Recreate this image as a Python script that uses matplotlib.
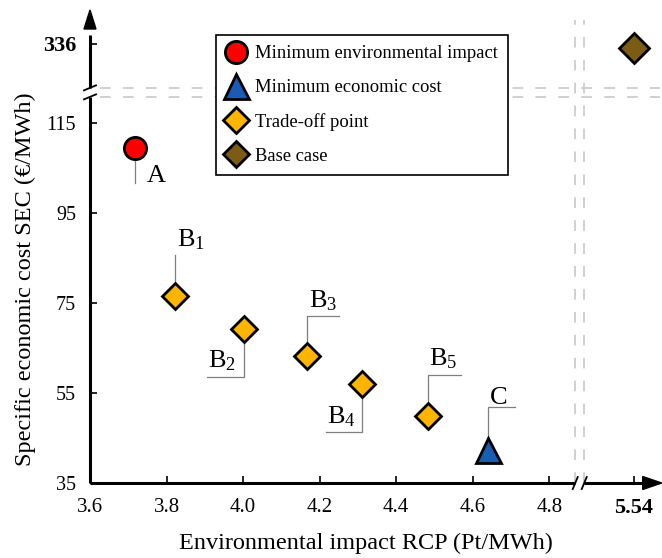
import numpy as np
import matplotlib
matplotlib.use("Agg")
import matplotlib.pyplot as plt
import matplotlib.transforms as mtransforms
from matplotlib.lines import Line2D

plt.rcParams['font.family'] = ['Liberation Serif', 'DejaVu Serif']
plt.rcParams['mathtext.fontset'] = 'custom'
plt.rcParams['mathtext.rm'] = 'Liberation Serif'
plt.rcParams['mathtext.it'] = 'Liberation Serif:italic'

# Pareto points (RCP in Pt/MWh, SEC in EUR/MWh)
point_labels = ['A', r'$\mathrm{B}_\mathrm{1}$', r'$\mathrm{B}_\mathrm{2}$', r'$\mathrm{B}_\mathrm{3}$',
                r'$\mathrm{B}_\mathrm{4}$', r'$\mathrm{B}_\mathrm{5}$', 'C']
rcp = [3.718, 3.822, 4.003, 4.166, 4.312, 4.483, 4.641]
sec = [109.4, 76.6, 69.2, 63.2, 57.0, 49.9, 42.4]
base_rcp = [5.54]
base_sec = [335]

x_ticks = [3.6, 3.8, 4.0, 4.2, 4.4, 4.6, 4.8, 5.54]
x_tick_labels = ['3.6', '3.8', '4.0', '4.2', '4.4', '4.6', '4.8', '5.54']
y_ticks = [35, 55, 75, 95, 115, 336]
y_tick_labels = ['35', '55', '75', '95', '115', '336']
legend_labels = ['Minimum environmental impact', 'Minimum economic cost',
                 'Trade-off point', 'Base case']

# leader lines (pixels from the point): vertical run, horizontal run, label offset
leader_dy = [-35, 41, -48, 40, -48, 41, 43]
leader_dx = [0, 0, -37, 32, -36, 33, 27]
label_off = [(12, -34), (2, 49), (-36, -38), (2, 49), (-35, -39), (1, 51), (2, 46)]

RED = '#ff0000'
BLUE = '#1a5bb5'
ORANGE = '#ffb400'
BROWN = '#7a5c15'
GRAY = '#c4c4c4'


def make_break(lo, hi, gap):
    """Piecewise scale: cut out (lo, hi) and leave a small gap instead."""
    def fwd(v):
        v = np.asarray(v, dtype=float)
        mid = lo + (v - lo) * gap / (hi - lo)
        return np.where(v <= lo, v, np.where(v >= hi, v - (hi - lo) + gap, mid))

    def inv(t):
        t = np.asarray(t, dtype=float)
        mid = lo + (t - lo) * (hi - lo) / gap
        return np.where(t <= lo, t, np.where(t >= lo + gap, t + (hi - lo) - gap, mid))
    return fwd, inv


X_LO, X_HI = 4.868, 5.41
Y_LO, Y_HI = 120.8, 326.2

fig = plt.figure(figsize=(6.62, 5.58), dpi=100)
ax = fig.add_axes([90 / 662, 75 / 558, 570 / 662, 473 / 558])
ax.set_xscale('function', functions=make_break(X_LO, X_HI, 0.0235))
ax.set_yscale('function', functions=make_break(Y_LO, Y_HI, 2.0))
ax.set_xlim(3.6, 5.608)
ax.set_ylim(35, 343.5)
ax.autoscale(False)

for s in ax.spines.values():
    s.set_visible(False)

# axis lines with breaks
xt = ax.get_xaxis_transform()
yt = ax.get_yaxis_transform()
ax.plot([3.6, X_LO], [0, 0], color='k', lw=2.2, transform=xt, clip_on=False, solid_capstyle='butt')
ax.plot([X_HI, 5.58], [0, 0], color='k', lw=2.2, transform=xt, clip_on=False, solid_capstyle='butt')
ax.plot([0, 0], [35, Y_LO], color='k', lw=2.2, transform=yt, clip_on=False, solid_capstyle='butt')
ax.plot([0, 0], [Y_HI, 338], color='k', lw=2.2, transform=yt, clip_on=False, solid_capstyle='butt')

# arrow heads (in inches, tip at the axes corner)
tip_x = fig.dpi_scale_trans + mtransforms.ScaledTranslation(1.003, 0, ax.transAxes)
ax.fill([0, -0.19, -0.19], [0, 0.065, -0.065], color='k', transform=tip_x, clip_on=False)
tip_y = fig.dpi_scale_trans + mtransforms.ScaledTranslation(0, 1, ax.transAxes)
ax.fill([0, 0.06, -0.06], [0, -0.19, -0.19], color='k', transform=tip_y, clip_on=False)

# break slashes
for xv in (X_LO, X_HI):
    tr = fig.dpi_scale_trans + mtransforms.ScaledTranslation(xv, 0, xt)
    ax.plot([-0.025, 0.025], [-0.06, 0.06], color='k', lw=1.3, transform=tr, clip_on=False)
for yv in (Y_LO, Y_HI):
    tr = fig.dpi_scale_trans + mtransforms.ScaledTranslation(0, yv, yt)
    ax.plot([-0.06, 0.06], [-0.025, 0.025], color='k', lw=1.3, transform=tr, clip_on=False)

# dashed break guides
dash = (0, (7, 8))
for xv in (X_LO, X_HI):
    ax.axvline(xv, ymin=0, ymax=0.979, color=GRAY, lw=1.1, ls=dash, zorder=1)
for yv in (Y_LO, Y_HI):
    ax.axhline(yv, xmin=0.018, xmax=1, color=GRAY, lw=1.1, ls=dash, zorder=1)

ax.set_xticks(x_ticks)
ax.set_xticklabels(x_tick_labels)
ax.set_yticks(y_ticks)
ax.set_yticklabels(y_tick_labels)
ax.tick_params(direction='in', length=5, width=1.2)
ax.tick_params(axis='x', pad=11, labelsize=15)
ax.tick_params(axis='y', pad=10, labelsize=14.5)
ax.get_xticklabels()[-1].set_fontweight('bold')
ax.get_xticklabels()[-1].set_fontsize(16)
ax.get_yticklabels()[-1].set_fontweight('bold')
ax.get_yticklabels()[-1].set_fontsize(16)
ax.minorticks_off()

ax.set_xlabel('Environmental impact RCP (Pt/MWh)', fontsize=17.5)
ax.set_ylabel('Specific economic cost SEC (€/MWh)', fontsize=17.5)
ax.xaxis.set_label_coords(0.484, -0.106)
ax.yaxis.set_label_coords(-0.095, 0.43)

# leaders and labels
for i in range(len(rcp)):
    off = mtransforms.ScaledTranslation(rcp[i], sec[i], ax.transData)
    ax.plot([0, 0, leader_dx[i]], [0, leader_dy[i], leader_dy[i]], color='#7f7f7f', lw=0.9,
            transform=mtransforms.IdentityTransform() + off, zorder=2)
    ax.annotate(point_labels[i], xy=(rcp[i], sec[i]), xytext=label_off[i],
                textcoords='offset pixels', ha='left', va='baseline', fontsize=19)

ax.plot(rcp[0], sec[0], 'o', ms=16, mfc=RED, mec='k', mew=2, zorder=4)
ax.plot(rcp[1:6], sec[1:6], 'D', ms=13, mfc=ORANGE, mec='k', mew=2, ls='none', zorder=4)
ax.plot(rcp[6], sec[6], '^', ms=18, mfc=BLUE, mec='k', mew=2, zorder=4)
ax.plot(base_rcp, base_sec, 'D', ms=15, mfc=BROWN, mec='k', mew=2, ls='none', zorder=4)

handles = [
    Line2D([], [], marker='o', ms=16, mfc=RED, mec='k', mew=2, ls='none'),
    Line2D([], [], marker='^', ms=18, mfc=BLUE, mec='k', mew=2, ls='none'),
    Line2D([], [], marker='D', ms=13, mfc=ORANGE, mec='k', mew=2, ls='none'),
    Line2D([], [], marker='D', ms=13, mfc=BROWN, mec='k', mew=2, ls='none'),
]
leg = ax.legend(handles, legend_labels, loc='upper left', bbox_to_anchor=(0.221, 0.947),
                borderaxespad=0, fontsize=13.4, frameon=True, fancybox=False,
                edgecolor='k', framealpha=1, handlelength=1.1, handletextpad=0.45,
                labelspacing=0.9, borderpad=0.55)
leg.get_frame().set_linewidth(1.2)
leg.set_zorder(5)

fig.savefig('out.png', dpi=100)
